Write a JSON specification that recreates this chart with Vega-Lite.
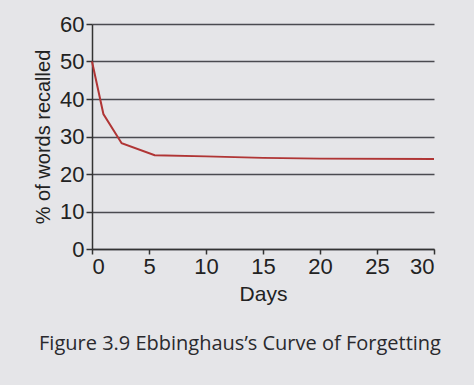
{
  "$schema": "https://vega.github.io/schema/vega-lite/v6.json",
  "autosize": "none",
  "width": 342,
  "height": 225,
  "padding": {"left": 92, "top": 24, "right": 40, "bottom": 136},
  "background": "#e5e5e8",
  "config": {
    "view": {"stroke": null},
    "font": "Liberation Sans"
  },
  "title": {
    "text": "Figure 3.9  Ebbinghaus’s Curve of Forgetting",
    "orient": "bottom",
    "anchor": "middle",
    "dx": -23,
    "offset": 30,
    "font": "Open Sans",
    "fontSize": 20,
    "fontWeight": 400,
    "color": "#2a2a2e"
  },
  "data": {
    "values": [
      {"day": 0, "pct": 50},
      {"day": 1, "pct": 36},
      {"day": 2.6, "pct": 28.2},
      {"day": 5.5, "pct": 25},
      {"day": 10, "pct": 24.7},
      {"day": 15, "pct": 24.3},
      {"day": 20, "pct": 24.1},
      {"day": 30, "pct": 24}
    ]
  },
  "mark": {"type": "line", "color": "#b03535", "strokeWidth": 2},
  "encoding": {
    "x": {
      "field": "day",
      "type": "quantitative",
      "scale": {"domain": [0, 30], "nice": false},
      "axis": {
        "values": [0, 5, 10, 15, 20, 25, 30],
        "grid": false,
        "title": "Days",
        "titleFontSize": 21,
        "titleFontWeight": "normal",
        "titleColor": "#222",
        "titlePadding": 6,
        "labelFontSize": 22,
        "labelColor": "#222",
        "labelPadding": 2,
        "domainColor": "#333",
        "domainWidth": 1.5,
        "tickColor": "#333",
        "tickSize": 5,
        "tickWidth": 1.5
      }
    },
    "y": {
      "field": "pct",
      "type": "quantitative",
      "scale": {"domain": [0, 60], "nice": false},
      "axis": {
        "values": [0, 10, 20, 30, 40, 50, 60],
        "grid": true,
        "gridColor": "#4a4a50",
        "gridWidth": 1.3,
        "title": "% of words recalled",
        "titleFontSize": 20,
        "titleFontWeight": "normal",
        "titleColor": "#222",
        "titlePadding": 6,
        "labelFontSize": 22,
        "labelColor": "#222",
        "labelPadding": 2,
        "domainColor": "#333",
        "domainWidth": 1.5,
        "tickColor": "#333",
        "tickSize": 6,
        "tickWidth": 1.5
      }
    }
  }
}
